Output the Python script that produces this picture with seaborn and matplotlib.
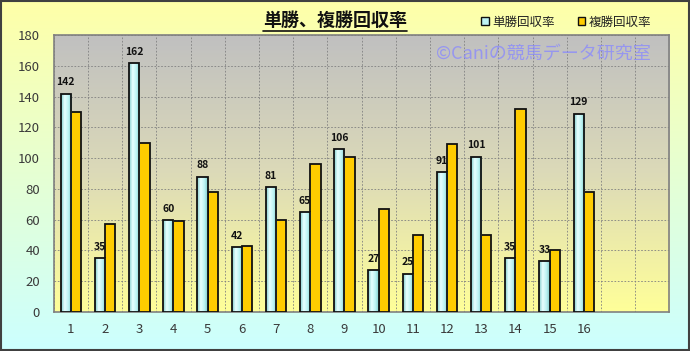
import numpy as np
import pandas as pd
import matplotlib
matplotlib.use("Agg")
import matplotlib.pyplot as plt
from matplotlib.patches import Rectangle
from matplotlib.lines import Line2D
from matplotlib.colors import LinearSegmentedColormap
import seaborn as sns

# data
races = list(range(1, 17))
tansho = [142, 35, 162, 60, 88, 42, 81, 65, 106, 27, 25, 91, 101, 35, 33, 129]
fukusho = [130, 57, 110, 59, 78, 43, 60, 96, 101, 67, 50, 109, 50, 132, 40, 78]
series_names = ["単勝回収率", "複勝回収率"]
slots = list(range(1, 19))  # 18 category slots, last two empty

df = pd.DataFrame({
    "race": races * 2,
    "rate": tansho + fukusho,
    "kind": [series_names[0]] * 16 + [series_names[1]] * 16,
})

sns.set_style("white")
plt.rcParams["font.family"] = ["Noto Sans CJK JP", "DejaVu Sans"]

fig = plt.figure(figsize=(6.9, 3.51), dpi=100)

# figure background gradient (light yellow -> light cyan)
bg = fig.add_axes([0, 0, 1, 1], zorder=-10)
bg_cmap = LinearSegmentedColormap.from_list("bg", ["#ffffa8", "#ccffff"])
bg.imshow(np.linspace(0, 1, 256).reshape(-1, 1), cmap=bg_cmap, aspect="auto",
          extent=[0, 1, 0, 1])
bg.set_axis_off()
bg.add_patch(Rectangle((0.002, 0.003), 0.996, 0.994, transform=bg.transAxes,
                       fill=False, edgecolor="#404040", lw=1.5))

ax = fig.add_axes([0.078, 0.111, 0.892, 0.789])
palette = {series_names[0]: "#bff4f4", series_names[1]: "#ffcc00"}
sns.barplot(data=df, x="race", y="rate", hue="kind", order=slots,
            palette=palette, saturation=1, width=0.6, edgecolor="#111111",
            linewidth=1.3, ax=ax, legend=False, zorder=3)

# plot area gradient (gray at top -> yellow at bottom)
pa_cmap = LinearSegmentedColormap.from_list("pa", ["#c0c0c0", "#dcdab8", "#ffff99"])
ax.imshow(np.linspace(0, 1, 256).reshape(-1, 1), cmap=pa_cmap, aspect="auto",
          extent=[-0.5, 17.5, 0, 180], zorder=0)

# cylinder-like shading on the 単勝 bars
cyl = LinearSegmentedColormap.from_list("cyl", ["#7fcccc", "#e8ffff", "#bff4f4", "#7fcccc"])
for p in ax.patches[:16]:
    x0, w, h = p.get_x(), p.get_width(), p.get_height()
    im = ax.imshow(np.linspace(0, 1, 64).reshape(1, -1), cmap=cyl, aspect="auto",
                   extent=[x0, x0 + w, 0, h], zorder=3.5)
    im.set_clip_path(p)
    p.set_zorder(4)
    p.set_facecolor("none")

ax.set_xlim(-0.5, 17.5)
ax.set_ylim(0, 180)
ax.set_yticks(range(0, 181, 20))
ax.set_xticks(range(16))
ax.set_xticklabels([str(r) for r in races])
ax.set_xticks(np.arange(-0.5, 18, 1), minor=True)
ax.grid(which="minor", axis="x", color="#808080", ls=(0, (2, 2)), lw=0.6, zorder=1)
ax.grid(which="major", axis="y", color="#808080", ls=(0, (2, 2)), lw=0.6, zorder=1)
ax.tick_params(axis="both", which="both", length=0, labelsize=9.5, colors="#3a3a3a", pad=8)
ax.tick_params(axis="y", pad=10)
ax.set_xlabel("")
ax.set_ylabel("")
for s in ax.spines.values():
    s.set_color("#808080")
    s.set_linewidth(1.2)

# value labels on 単勝 bars
for p, v in zip(ax.patches[:16], tansho):
    ax.text(p.get_x() + p.get_width() / 2, v + 4, str(v), ha="center", va="bottom",
            fontsize=7.5, fontweight="bold", color="#111111", zorder=5)

# watermark
fig.text(0.787, 0.848, "©Caniの競馬データ研究室", ha="center", va="center",
         fontsize=13, color="#8888ff", alpha=0.75)

# title with underline
title = fig.text(0.485, 0.943, "単勝、複勝回収率", ha="center", va="center",
                 fontsize=13, fontweight="bold", color="#111111")
fig.canvas.draw()
bb = title.get_window_extent().transformed(fig.transFigure.inverted())
fig.add_artist(Line2D([bb.x0, bb.x1], [bb.y0 - 0.005, bb.y0 - 0.005],
                      transform=fig.transFigure, color="#111111", lw=1.2))

# legend
handles = [Rectangle((0, 0), 1, 1, facecolor=palette[n], edgecolor="#111111", lw=1)
           for n in series_names]
fig.legend(handles, series_names, loc="center", bbox_to_anchor=(0.821, 0.937),
           ncol=2, frameon=False, fontsize=9, handlelength=0.6, handleheight=0.6,
           handletextpad=0.3, columnspacing=1.8, labelcolor="#222222")

fig.savefig("out.png", dpi=100)
